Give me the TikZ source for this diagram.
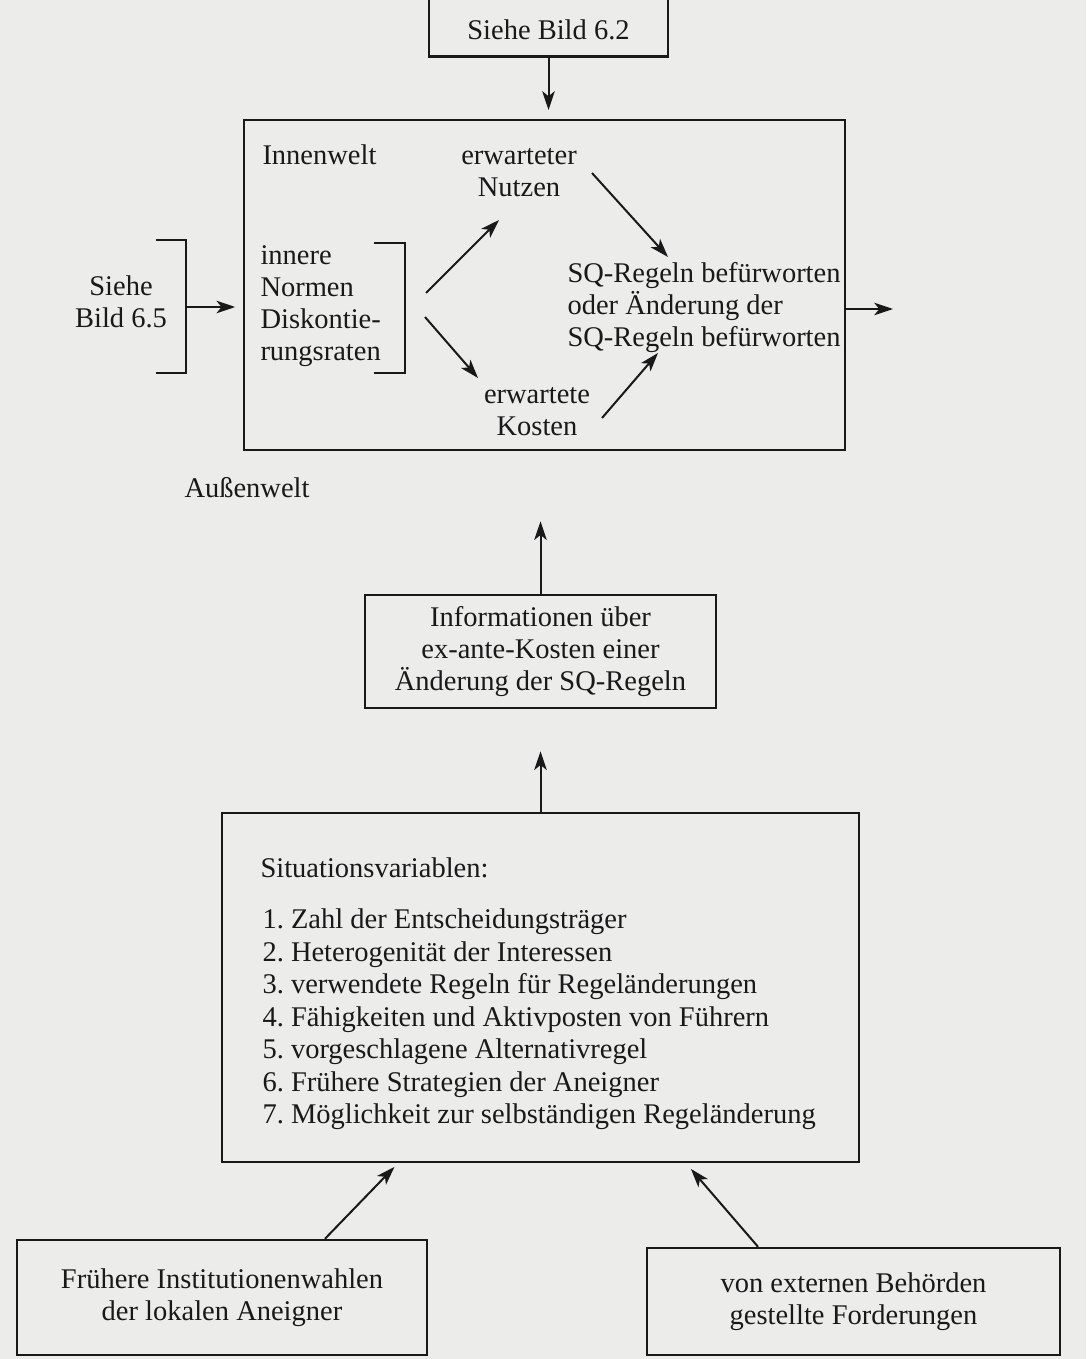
\documentclass[tikz,border=0pt]{standalone}
\usepackage{fontspec}
\setmainfont{Liberation Serif}
\usetikzlibrary{arrows.meta}
\definecolor{paper}{RGB}{236,236,234}
\definecolor{ink}{RGB}{25,25,25}

\begin{document}
\frenchspacing
\begin{tikzpicture}[x=0.4pt, y=-0.4pt, inner sep=0mm,
		font=\fontsize{11.4}{12.8}\selectfont, color=ink,
		boxstyle/.style={draw, line width=1pt, align=center},
		textstyle/.style={align=center},
		bracketstyle/.style={line width=1pt},
		edgestyle/.style={line width=0.8pt, -{Stealth[length=7.5pt, width=5pt, inset=2pt]}}]

		\fill [paper] (0,0) rectangle (1086,1359);
		\useasboundingbox (0,0) rectangle (1086,1359);

		% Innenwelt
		\node [boxstyle, minimum width=95.6pt, text height=48pt, text depth=0pt, inner ysep=7pt, anchor=south] (bild62) at (548.5,58) {Siehe Bild 6.2};
		\node [boxstyle, minimum width=240.4pt, minimum height=132pt] (umwelt) at (544.5,285) {};
		\node [anchor=west] (innenwelt) at (262,155) {Innenwelt};
		\node [textstyle] (nutzen) at (519,173) {erwarteter\\Nutzen};
		\node [anchor=west, align=left] (normen) at (260,306) {innere\\Normen\\Diskontie-\\rungsraten};
		\node [textstyle] (kosten) at (537,412) {erwartete\\Kosten};
		\node [anchor=west, align=left] (sq) at (567,308) {SQ-Regeln befürworten\\oder Änderung der\\SQ-Regeln befürworten};
		\node [textstyle] (bild65) at (121,302) {Siehe\\Bild 6.5};
		\node [anchor=west] (aussen) at (184,488) {Außenwelt};

		\draw [bracketstyle] (156,240) -- (186,240) -- (186,373) -- (156,373);
		\coordinate (br65) at (186,307);
		\draw [bracketstyle] (374,243) -- (405,243) -- (405,373) -- (374,373);
		\coordinate (brin) at (405,305);
		\coordinate (aus) at (893,309);

		\draw [edgestyle, shorten >=3.5pt] (bild62.south) -- (bild62.south |- umwelt.north);
		\draw [edgestyle, shorten >=3pt] (br65) -- (br65 -| umwelt.west);
		\draw [edgestyle] ([shift={(21,-12)}]brin) -- ([shift={(-20,47)}]nutzen.center);
		\draw [edgestyle] ([shift={(20,12)}]brin) -- ([shift={(-59,-34)}]kosten.center);
		\draw [edgestyle] ([shift={(73,0)}]nutzen.center) -- ([shift={(101,-51)}]sq.west);
		\draw [edgestyle] ([shift={(65,6)}]kosten.center) -- ([shift={(91,45)}]sq.west);
		\draw [edgestyle] (umwelt.east |- aus) -- (aus);

		% Informationen und Situationsvariablen
		\node [boxstyle, minimum width=140.4pt, minimum height=45.2pt] (info) at (540.5,651.5) {Informationen über\\ex-ante-Kosten einer\\Änderung der SQ-Regeln};
		\draw [edgestyle, shorten >=28pt] (info.north) -- (info.north |- umwelt.south);

		\node [boxstyle, minimum width=254.8pt, minimum height=139.6pt] (situation) at (540.5,987.5) {};
		\node [anchor=west] (sitkopf) at (260,868) {Situationsvariablen:};
		\node [anchor=west, align=left, font=\fontsize{11.4}{13}\selectfont] (sitliste) at (262,1019.5) {1. Zahl der Entscheidungsträger\\
			2. Heterogenität der Interessen\\
			3. verwendete Regeln für Regeländerungen\\
			4. Fähigkeiten und Aktivposten von Führern\\
			5. vorgeschlagene Alternativregel\\
			6. Frühere Strategien der Aneigner\\
			7. Möglichkeit zur selbständigen Regeländerung};
		\draw [edgestyle, shorten >=16.8pt] (situation.north) -- (situation.north |- info.south);

		% externe Einfluesse
		\node [boxstyle, minimum width=164pt, minimum height=46pt] (fruehere) at (222,1297.5) {Frühere Institutionenwahlen\\der lokalen Aneigner};
		\node [boxstyle, minimum width=165.2pt, minimum height=42.8pt] (extern) at (853.5,1301.5) {von externen Behörden\\gestellte Forderungen};
		\draw [edgestyle, shorten >=2pt] ([shift={(103,0)}]fruehere.north) -- ([shift={(-142.5,0)}]situation.south);
		\draw [edgestyle, shorten >=3pt] ([shift={(-95.5,0)}]extern.north) -- ([shift={(145.5,0)}]situation.south);
\end{tikzpicture}
\end{document}
